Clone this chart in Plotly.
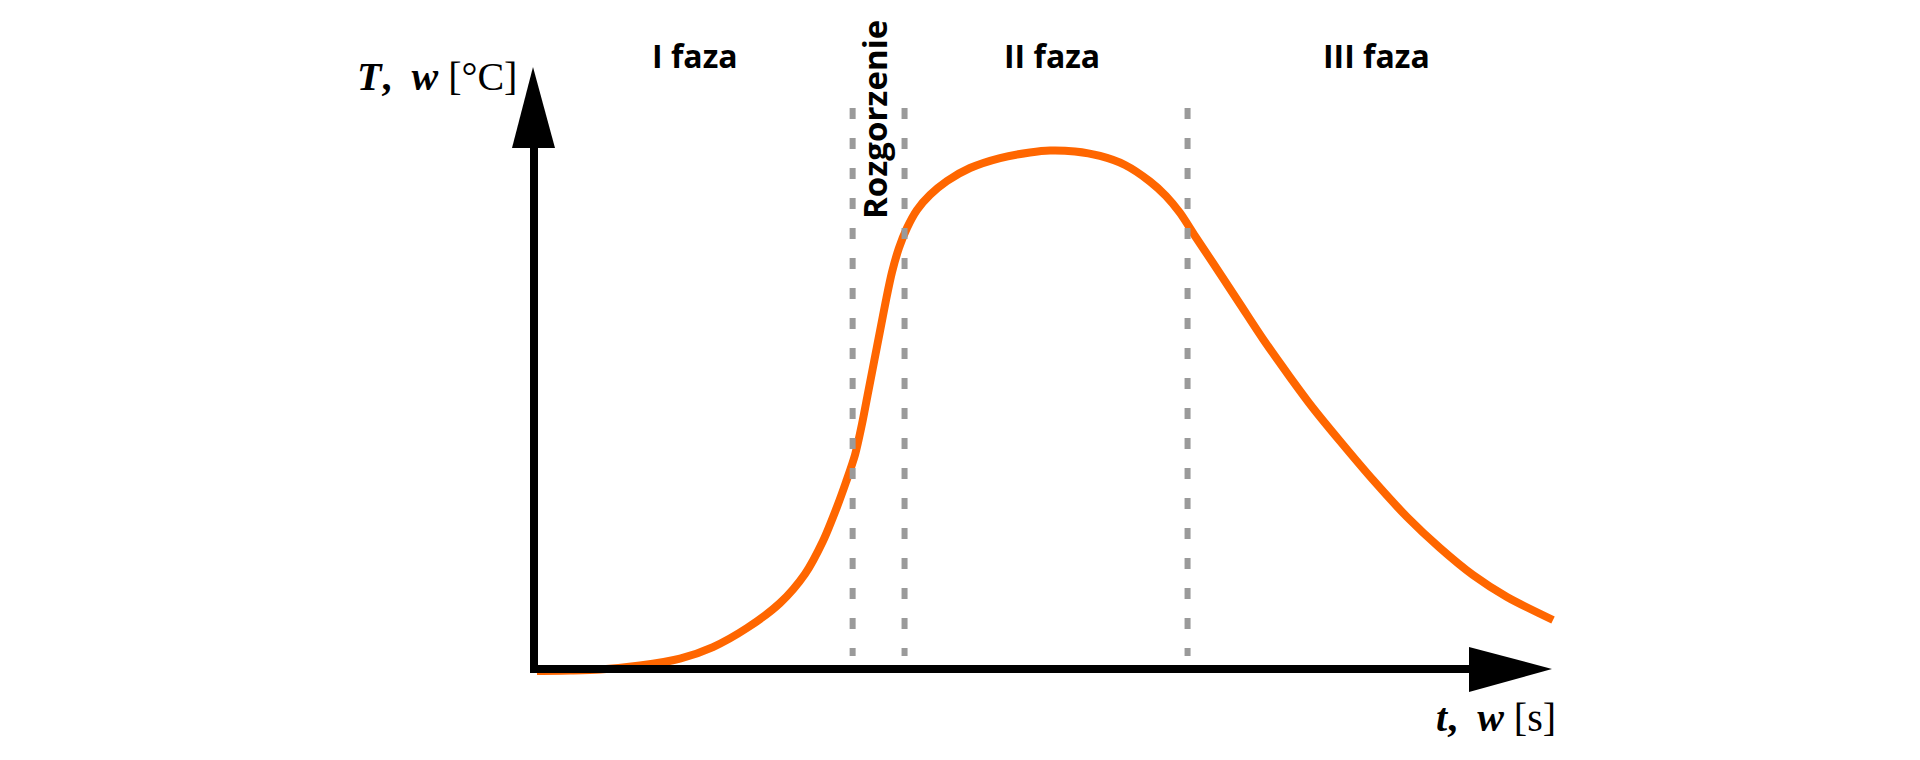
import plotly.graph_objects as go

# ---- data (time, temperature) ----
time = [0.29, 3.54, 6.48, 10.41, 14.34, 17.58, 20.92, 24.17, 26.62, 28.39, 29.76, 30.65,
        31.53, 32.22, 32.81, 33.40, 33.99, 34.58, 35.17, 35.85, 36.64, 37.62, 38.90, 40.57,
        42.83, 45.78, 48.72, 50.69, 53.14, 55.60, 58.06, 60.51, 62.08, 63.46, 64.93, 66.70,
        69.35, 71.61, 74.26, 76.52, 79.17, 82.42, 85.76, 89.00, 92.24, 95.58, 100.10]
temperature = [-0.33, -0.25, -0.08, 0.58, 1.74, 3.65, 6.81, 10.96, 15.78, 21.26, 26.91, 31.06,
               35.55, 40.70, 45.85, 51.00, 56.15, 61.30, 65.95, 69.93, 73.26, 76.25, 78.74, 81.06,
               83.22, 84.88, 85.80, 86.13, 85.96, 85.22, 83.72, 80.98, 78.57, 75.75, 71.93, 67.44,
               60.63, 54.82, 48.50, 43.36, 37.87, 31.40, 25.25, 20.10, 15.61, 11.96, 8.14]
phase_bounds = [31.3, 36.4, 64.2]
phase_labels = ["I faza", "II faza", "III faza"]
phase_label_t = [15.8, 50.9, 82.8]
flare_label = "Rozgorzenie"
flare_label_t = 33.4
x_label = "<b><i>t</i>,  <i>w</i></b> [s]"
y_label = "<b><i>T</i>,  <i>w</i></b> [°C]"

# ---- geometry (screen pixels) ----
W, H = 1920, 760
OFF = 8                  # page body margin
PX0, PY0 = 534, 669      # origin on screen
SX, SY = 10.18, 6.02     # px per data unit
xr = [(OFF - PX0) / SX, (OFF + W - PX0) / SX]
yr = [(PY0 - OFF - H) / SY, (PY0 - OFF) / SY]

def tx(px):
    return (px - PX0) / SX

def ty(py):
    return (PY0 - py) / SY

fig = go.Figure()

fig.add_trace(go.Scatter(
    x=time, y=temperature, mode="lines",
    line=dict(color="#FF6600", width=8, shape="spline", smoothing=0.8),
    hoverinfo="skip"))

for b in phase_bounds:
    fig.add_trace(go.Scatter(
        x=[b, b], y=[ty(108), ty(656)], mode="lines",
        line=dict(color="#9A9A9A", width=6, dash="11px,19px"),
        hoverinfo="skip"))

shapes = []
shapes.append(dict(type="line", x0=0, x1=0, y0=ty(673), y1=ty(148),
                   line=dict(color="black", width=8), layer="above"))
shapes.append(dict(type="line", x0=tx(530), x1=tx(1469), y0=0, y1=0,
                   line=dict(color="black", width=8), layer="above"))
shapes.append(dict(type="path",
                   path=f"M {tx(512)},{ty(148)} L {tx(533)},{ty(67)} L {tx(555)},{ty(148)} Z",
                   fillcolor="black", line=dict(color="black", width=0), layer="above"))
shapes.append(dict(type="path",
                   path=f"M {tx(1469)},{ty(647)} L {tx(1552)},{ty(669)} L {tx(1469)},{ty(692)} Z",
                   fillcolor="black", line=dict(color="black", width=0), layer="above"))

annotations = []
for lab, t in zip(phase_labels, phase_label_t):
    annotations.append(dict(x=t, y=ty(55), xref="x", yref="y", text=lab, showarrow=False,
                            xanchor="center", yanchor="middle",
                            font=dict(family="Open Sans", size=32, color="black", weight=700)))
annotations.append(dict(x=flare_label_t, y=ty(120), xref="x", yref="y", text=flare_label,
                        showarrow=False, textangle=-90, xanchor="center", yanchor="middle",
                        font=dict(family="Open Sans", size=33, color="black", weight=700)))
annotations.append(dict(x=tx(437), y=ty(76), xref="x", yref="y", text=y_label, showarrow=False,
                        xanchor="center", yanchor="middle",
                        font=dict(family="Liberation Serif", size=40, color="black")))
annotations.append(dict(x=tx(1496), y=ty(717), xref="x", yref="y", text=x_label, showarrow=False,
                        xanchor="center", yanchor="middle",
                        font=dict(family="Liberation Serif", size=40, color="black")))

fig.update_layout(
    width=W, height=H,
    margin=dict(l=0, r=0, t=0, b=0),
    paper_bgcolor="white", plot_bgcolor="white",
    showlegend=False,
    xaxis=dict(range=xr, visible=False, fixedrange=True),
    yaxis=dict(range=yr, visible=False, fixedrange=True),
    shapes=shapes, annotations=annotations,
)

fig.write_html("out.html")
